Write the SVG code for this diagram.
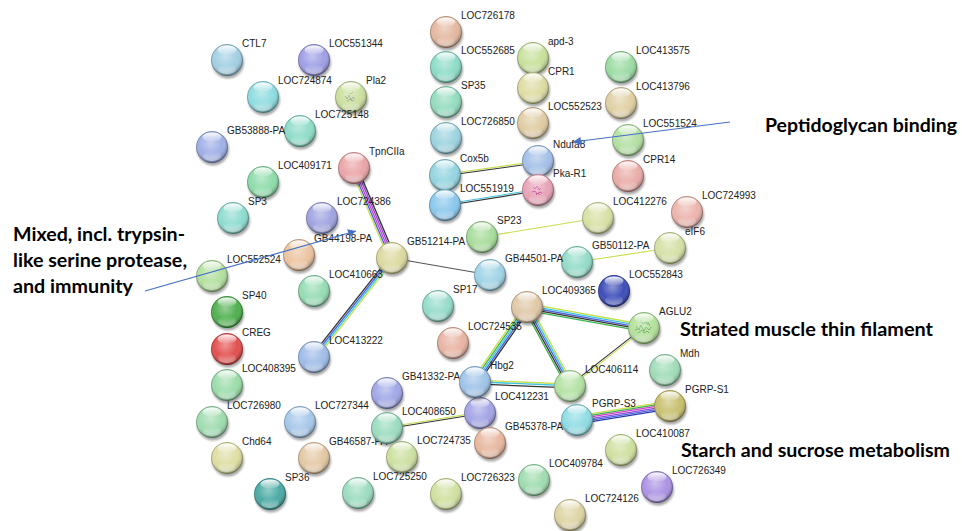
<svg xmlns="http://www.w3.org/2000/svg" width="962" height="531" viewBox="0 0 962 531">
<style>
.lb{font-family:"Liberation Sans",Arial,sans-serif;font-size:10px;fill:#222;}
.an{font-family:Lato,"Open Sans",sans-serif;font-weight:700;font-size:19px;fill:#000;}
.e line{stroke-width:1.1;fill:none;}
.y{stroke:#c4e04c}.c{stroke:#3cc4dc}.b{stroke:#4a62e0}.k{stroke:#333}.g{stroke:#3fb24a}.m{stroke:#d23cc8}.p{stroke:#8a4ad8}.n{stroke:#2a3aa8}
.arr{stroke:#4472c4;stroke-width:1.2;fill:none;}
</style>
<defs>
<filter id="blur" x="-30%" y="-30%" width="160%" height="160%"><feGaussianBlur stdDeviation="1.2"/></filter>
<radialGradient id="shade" cx="0.45" cy="0.38" r="0.62">
<stop offset="0" stop-color="#fff" stop-opacity="0.4"/>
<stop offset="0.6" stop-color="#fff" stop-opacity="0"/>
<stop offset="0.9" stop-color="#000" stop-opacity="0.2"/>
<stop offset="1" stop-color="#000" stop-opacity="0.4"/>
</radialGradient>
<linearGradient id="hl" x1="0" y1="0" x2="0" y2="1">
<stop offset="0" stop-color="#fff" stop-opacity="0.95"/>
<stop offset="1" stop-color="#fff" stop-opacity="0.1"/>
</linearGradient>
<linearGradient id="bl" x1="0" y1="0" x2="0" y2="1">
<stop offset="0" stop-color="#fff" stop-opacity="0"/>
<stop offset="1" stop-color="#fff" stop-opacity="0.45"/>
</linearGradient>
<g id="sh"><circle cx="1" cy="2.5" r="16" fill="#000" opacity="0.35" filter="url(#blur)"/></g>
<g id="gl">
<circle r="16" fill="url(#shade)"/>
<ellipse cy="-10" rx="9.5" ry="4.5" fill="url(#hl)"/>
<ellipse cy="9" rx="9" ry="5" fill="url(#bl)"/>
<circle r="15.6" fill="none" stroke="#000" stroke-opacity="0.25" stroke-width="0.8"/>
</g>
<marker id="ah" viewBox="0 0 10 10" refX="10" refY="5" markerWidth="10" markerHeight="8" markerUnits="userSpaceOnUse" orient="auto"><path d="M0,0 L10,5 L0,10 z" fill="#4472c4"/></marker>
</defs>
<rect width="962" height="531" fill="#fff"/>

<g id="edges" class="e">
<g transform="translate(354,168) rotate(67.1) scale(1,1.2)"><line class="y" x2="97.7" y1="2.8" y2="2.8"/><line class="b" x2="97.7" y1="1.4" y2="1.4"/><line class="m" x2="97.7"/><line class="p" x2="97.7" y1="-1.4" y2="-1.4"/><line class="k" x2="97.7" y1="-2.8" y2="-2.8"/></g>
<g transform="translate(392,258) rotate(128.2) scale(1,1.2)"><line class="k" x2="126" y1="2.1" y2="2.1"/><line class="b" x2="126" y1="0.7" y2="0.7"/><line class="c" x2="126" y1="-0.7" y2="-0.7"/><line class="y" x2="126" y1="-2.1" y2="-2.1"/></g>
<g transform="translate(392,258) rotate(9.84)"><line class="k" x2="99.5" style="stroke:#555"/></g>
<g transform="translate(482,237) rotate(-9.3)"><line class="y" x2="117.5"/></g>
<g transform="translate(577,262) rotate(-8.56)"><line class="y" x2="94"/></g>
<g transform="translate(445,175) rotate(-7.96)"><line class="y" x2="93.9" y1="-0.8" y2="-0.8"/><line class="k" x2="93.9" y1="0.8" y2="0.8"/></g>
<g transform="translate(445,205) rotate(-9.16)"><line class="c" x2="94.2" y1="-0.8" y2="-0.8"/><line class="k" x2="94.2" y1="0.8" y2="0.8"/></g>
<g transform="translate(527,307) rotate(10.2) scale(1,1.2)"><line class="y" x2="118.9" y1="-2.8" y2="-2.8"/><line class="c" x2="118.9" y1="-1.4" y2="-1.4"/><line class="b" x2="118.9"/><line class="k" x2="118.9" y1="1.4" y2="1.4"/><line class="g" x2="118.9" y1="2.8" y2="2.8"/></g>
<g transform="translate(527,307) rotate(61.4) scale(1,1.2)"><line class="g" x2="89.9" y1="2.8" y2="2.8"/><line class="k" x2="89.9" y1="1.4" y2="1.4"/><line class="b" x2="89.9"/><line class="c" x2="89.9" y1="-1.4" y2="-1.4"/><line class="y" x2="89.9" y1="-2.8" y2="-2.8"/></g>
<g transform="translate(527,307) rotate(124.7) scale(1,1.2)"><line class="y" x2="91.3" y1="2.8" y2="2.8"/><line class="g" x2="91.3" y1="1.4" y2="1.4"/><line class="c" x2="91.3"/><line class="b" x2="91.3" y1="-1.4" y2="-1.4"/><line class="k" x2="91.3" y1="-2.8" y2="-2.8"/></g>
<g transform="translate(475,382) rotate(2.41) scale(1,1.2)"><line class="y" x2="95.1" y1="-1.6" y2="-1.6"/><line class="c" x2="95.1" y1="-0.2" y2="-0.2"/><line class="k" x2="95.1" y1="1.6" y2="1.6"/></g>
<g transform="translate(644,328) rotate(141.9)"><line class="y" x2="94" y1="-0.8" y2="-0.8"/><line class="k" x2="94" y1="0.8" y2="0.8"/></g>
<g transform="translate(577,420) rotate(-9.16) scale(1,1.15)"><line class="y" x2="94.2" y1="-3.5" y2="-3.5"/><line class="g" x2="94.2" y1="-2.1" y2="-2.1"/><line class="m" x2="94.2" y1="-0.7" y2="-0.7"/><line class="p" x2="94.2" y1="0.7" y2="0.7"/><line class="b" x2="94.2" y1="2.1" y2="2.1"/><line class="n" x2="94.2" y1="3.5" y2="3.5"/></g>
<g transform="translate(387,428) rotate(-9.16)"><line class="y" x2="94.2" y1="-0.8" y2="-0.8"/><line class="k" x2="94.2" y1="0.8" y2="0.8"/></g>
</g>

<g id="nodes">
<g id="n-CTL7" transform="translate(227,60)"><use href="#sh"/><circle r="16" fill="#a3cfe3"/><use href="#gl"/><text class="lb" x="15" y="-13">CTL7</text></g>
<g id="n-LOC551344" transform="translate(314,60)"><use href="#sh"/><circle r="16" fill="#9f9fe6"/><use href="#gl"/><text class="lb" x="15" y="-13">LOC551344</text></g>
<g id="n-LOC724874" transform="translate(263,97)"><use href="#sh"/><circle r="16" fill="#8fdce0"/><use href="#gl"/><text class="lb" x="15" y="-13">LOC724874</text></g>
<g id="n-Pla2" transform="translate(351,97)"><use href="#sh"/><circle r="16" fill="#cbe0a0"/><path d="M-6,-1 l2,3 l2,-4 l2,5 l2,-3 l2,2 M-4,4 l3,-2 l2,2 l2,-1 M-2,-4 l2,1 l2,-2" stroke="#7c8870" stroke-width="0.7" fill="none"/><use href="#gl"/><text class="lb" x="15" y="-13">Pla2</text></g>
<g id="n-LOC725148" transform="translate(300,131)"><use href="#sh"/><circle r="16" fill="#8edcc8"/><use href="#gl"/><text class="lb" x="15" y="-13">LOC725148</text></g>
<g id="n-GB53888-PA" transform="translate(212,147)"><use href="#sh"/><circle r="16" fill="#9fb0e6"/><use href="#gl"/><text class="lb" x="15" y="-13">GB53888-PA</text></g>
<g id="n-LOC409171" transform="translate(263,182)"><use href="#sh"/><circle r="16" fill="#8fdcaa"/><use href="#gl"/><text class="lb" x="15" y="-13">LOC409171</text></g>
<g id="n-TpnCIIa" transform="translate(354,168)"><use href="#sh"/><circle r="16" fill="#eaa5a8"/><use href="#gl"/><text class="lb" x="15" y="-13">TpnCIIa</text></g>
<g id="n-SP3" transform="translate(233,218)"><use href="#sh"/><circle r="16" fill="#8fdcd0"/><use href="#gl"/><text class="lb" x="15" y="-13">SP3</text></g>
<g id="n-LOC724386" transform="translate(322,218)"><use href="#sh"/><circle r="16" fill="#a0a4e0"/><use href="#gl"/><text class="lb" x="15" y="-13">LOC724386</text></g>
<g id="n-GB44198-PA" transform="translate(299,255)"><use href="#sh"/><circle r="16" fill="#ecc4a0"/><use href="#gl"/><text class="lb" x="15" y="-13">GB44198-PA</text></g>
<g id="n-GB51214-PA" transform="translate(392,258)"><use href="#sh"/><circle r="16" fill="#dcdaa0"/><use href="#gl"/><text class="lb" x="15" y="-13">GB51214-PA</text></g>
<g id="n-LOC552524" transform="translate(212,276)"><use href="#sh"/><circle r="16" fill="#b4e0a0"/><use href="#gl"/><text class="lb" x="15" y="-13">LOC552524</text></g>
<g id="n-LOC410663" transform="translate(314,291)"><use href="#sh"/><circle r="16" fill="#96dcb4"/><use href="#gl"/><text class="lb" x="15" y="-13">LOC410663</text></g>
<g id="n-SP40" transform="translate(227,312)"><use href="#sh"/><circle r="16" fill="#50b050"/><use href="#gl"/><text class="lb" x="15" y="-13">SP40</text></g>
<g id="n-CREG" transform="translate(227,349)"><use href="#sh"/><circle r="16" fill="#e35050"/><use href="#gl"/><text class="lb" x="15" y="-13">CREG</text></g>
<g id="n-LOC413222" transform="translate(314,357)"><use href="#sh"/><circle r="16" fill="#a0bce8"/><use href="#gl"/><text class="lb" x="15" y="-13">LOC413222</text></g>
<g id="n-LOC408395" transform="translate(227,385)"><use href="#sh"/><circle r="16" fill="#9cdcaa"/><use href="#gl"/><text class="lb" x="15" y="-13">LOC408395</text></g>
<g id="n-LOC726980" transform="translate(212,422)"><use href="#sh"/><circle r="16" fill="#a0dcb0"/><use href="#gl"/><text class="lb" x="15" y="-13">LOC726980</text></g>
<g id="n-LOC727344" transform="translate(300,422)"><use href="#sh"/><circle r="16" fill="#a8c8ea"/><use href="#gl"/><text class="lb" x="15" y="-13">LOC727344</text></g>
<g id="n-GB41332-PA" transform="translate(387,393)"><use href="#sh"/><circle r="16" fill="#a0a8e6"/><use href="#gl"/><text class="lb" x="15" y="-13">GB41332-PA</text></g>
<g id="n-Chd64" transform="translate(227,458)"><use href="#sh"/><circle r="16" fill="#dedea4"/><use href="#gl"/><text class="lb" x="15" y="-13">Chd64</text></g>
<g id="n-GB46587-PA" transform="translate(314,458)"><use href="#sh"/><circle r="16" fill="#e4c8a4"/><use href="#gl"/><text class="lb" x="15" y="-13">GB46587-PA</text></g>
<g id="n-LOC408650" transform="translate(387,428)"><use href="#sh"/><circle r="16" fill="#9cdcc0"/><use href="#gl"/><text class="lb" x="15" y="-13">LOC408650</text></g>
<g id="n-SP36" transform="translate(270,494)"><use href="#sh"/><circle r="16" fill="#4caaa4"/><use href="#gl"/><text class="lb" x="15" y="-13">SP36</text></g>
<g id="n-LOC725250" transform="translate(358,493)"><use href="#sh"/><circle r="16" fill="#9cdcc0"/><use href="#gl"/><text class="lb" x="15" y="-13">LOC725250</text></g>
<g id="n-LOC724735" transform="translate(402,457)"><use href="#sh"/><circle r="16" fill="#cce0a0"/><use href="#gl"/><text class="lb" x="15" y="-13">LOC724735</text></g>
<g id="n-LOC412231" transform="translate(480,413)"><use href="#sh"/><circle r="16" fill="#a4a4e6"/><use href="#gl"/><text class="lb" x="15" y="-13">LOC412231</text></g>
<g id="n-GB45378-PA" transform="translate(490,443)"><use href="#sh"/><circle r="16" fill="#e8b8a0"/><use href="#gl"/><text class="lb" x="15" y="-13">GB45378-PA</text></g>
<g id="n-Hbg2" transform="translate(475,382)"><use href="#sh"/><circle r="16" fill="#a0c4e8"/><use href="#gl"/><text class="lb" x="15" y="-13">Hbg2</text></g>
<g id="n-LOC724535" transform="translate(453,343)"><use href="#sh"/><circle r="16" fill="#e8b4a4"/><use href="#gl"/><text class="lb" x="15" y="-13">LOC724535</text></g>
<g id="n-SP17" transform="translate(438,306)"><use href="#sh"/><circle r="16" fill="#96dccc"/><use href="#gl"/><text class="lb" x="15" y="-13">SP17</text></g>
<g id="n-LOC409365" transform="translate(527,307)"><use href="#sh"/><circle r="16" fill="#e0c8a8"/><use href="#gl"/><text class="lb" x="15" y="-13">LOC409365</text></g>
<g id="n-AGLU2" transform="translate(644,328)"><use href="#sh"/><circle r="16" fill="#b4e09c"/><path d="M-8,-2 l3,4 l2,-5 l3,6 l2,-4 l3,3 l2,-3 M-6,5 l4,-3 l2,3 l3,-2 l2,2 M-3,-7 l2,3 l3,-2 l2,3 M-9,2 l3,-1 M4,-6 l2,4" stroke="#3f9a3a" stroke-width="0.7" fill="none"/><use href="#gl"/><text class="lb" x="15" y="-13">AGLU2</text></g>
<g id="n-LOC406114" transform="translate(570,386)"><use href="#sh"/><circle r="16" fill="#b4e2a4"/><use href="#gl"/><text class="lb" x="15" y="-13">LOC406114</text></g>
<g id="n-Mdh" transform="translate(665,370)"><use href="#sh"/><circle r="16" fill="#a0dcb8"/><use href="#gl"/><text class="lb" x="15" y="-13">Mdh</text></g>
<g id="n-PGRP-S1" transform="translate(670,406)"><use href="#sh"/><circle r="16" fill="#c8c070"/><use href="#gl"/><text class="lb" x="15" y="-13">PGRP-S1</text></g>
<g id="n-PGRP-S3" transform="translate(577,420)"><use href="#sh"/><circle r="16" fill="#90dce4"/><use href="#gl"/><text class="lb" x="15" y="-13">PGRP-S3</text></g>
<g id="n-LOC410087" transform="translate(621,450)"><use href="#sh"/><circle r="16" fill="#d0e0a0"/><use href="#gl"/><text class="lb" x="15" y="-13">LOC410087</text></g>
<g id="n-LOC409784" transform="translate(534,480)"><use href="#sh"/><circle r="16" fill="#a0dcb0"/><use href="#gl"/><text class="lb" x="15" y="-13">LOC409784</text></g>
<g id="n-LOC726323" transform="translate(446,494)"><use href="#sh"/><circle r="16" fill="#d0e0a0"/><use href="#gl"/><text class="lb" x="15" y="-13">LOC726323</text></g>
<g id="n-LOC724126" transform="translate(570,515)"><use href="#sh"/><circle r="16" fill="#ded4a4"/><use href="#gl"/><text class="lb" x="15" y="-13">LOC724126</text></g>
<g id="n-LOC726349" transform="translate(657,487)"><use href="#sh"/><circle r="16" fill="#ac94e4"/><use href="#gl"/><text class="lb" x="15" y="-13">LOC726349</text></g>
<g id="n-LOC726178" transform="translate(446,32)"><use href="#sh"/><circle r="16" fill="#e4b8a0"/><use href="#gl"/><text class="lb" x="15" y="-13">LOC726178</text></g>
<g id="n-LOC552685" transform="translate(446,67)"><use href="#sh"/><circle r="16" fill="#8edcc8"/><use href="#gl"/><text class="lb" x="15" y="-13">LOC552685</text></g>
<g id="n-SP35" transform="translate(446,102)"><use href="#sh"/><circle r="16" fill="#94dcc0"/><use href="#gl"/><text class="lb" x="15" y="-13">SP35</text></g>
<g id="n-LOC726850" transform="translate(446,138)"><use href="#sh"/><circle r="16" fill="#9cd4e0"/><use href="#gl"/><text class="lb" x="15" y="-13">LOC726850</text></g>
<g id="n-Cox5b" transform="translate(445,175)"><use href="#sh"/><circle r="16" fill="#94d4e0"/><use href="#gl"/><text class="lb" x="15" y="-13">Cox5b</text></g>
<g id="n-LOC551919" transform="translate(445,205)"><use href="#sh"/><circle r="16" fill="#8cc8ec"/><use href="#gl"/><text class="lb" x="15" y="-13">LOC551919</text></g>
<g id="n-apd-3" transform="translate(533,58)"><use href="#sh"/><circle r="16" fill="#c8e09c"/><use href="#gl"/><text class="lb" x="15" y="-13">apd-3</text></g>
<g id="n-CPR1" transform="translate(533,88)"><use href="#sh"/><circle r="16" fill="#dedca4"/><use href="#gl"/><text class="lb" x="15" y="-13">CPR1</text></g>
<g id="n-LOC552523" transform="translate(533,123)"><use href="#sh"/><circle r="16" fill="#e0cca4"/><use href="#gl"/><text class="lb" x="15" y="-13">LOC552523</text></g>
<g id="n-Ndufa8" transform="translate(538,161)"><use href="#sh"/><circle r="16" fill="#a4c0e8"/><use href="#gl"/><text class="lb" x="15" y="-13">Ndufa8</text></g>
<g id="n-Pka-R1" transform="translate(538,190)"><use href="#sh"/><circle r="16" fill="#e8a4b8"/><path d="M-5,-3 l2,2 l2,-3 l2,4 l2,-2 M-6,2 l3,-1 l2,3 l3,-2 l2,1 M-2,5 l2,-2 l2,2" stroke="#c0308a" stroke-width="0.9" fill="none"/><use href="#gl"/><text class="lb" x="15" y="-13">Pka-R1</text></g>
<g id="n-LOC413575" transform="translate(621,67)"><use href="#sh"/><circle r="16" fill="#9cdca4"/><use href="#gl"/><text class="lb" x="15" y="-13">LOC413575</text></g>
<g id="n-LOC413796" transform="translate(621,103)"><use href="#sh"/><circle r="16" fill="#e0d0a4"/><use href="#gl"/><text class="lb" x="15" y="-13">LOC413796</text></g>
<g id="n-LOC551524" transform="translate(628,140)"><use href="#sh"/><circle r="16" fill="#b4e0a4"/><use href="#gl"/><text class="lb" x="15" y="-13">LOC551524</text></g>
<g id="n-CPR14" transform="translate(628,176)"><use href="#sh"/><circle r="16" fill="#eaaca8"/><use href="#gl"/><text class="lb" x="15" y="-13">CPR14</text></g>
<g id="n-LOC412276" transform="translate(598,218)"><use href="#sh"/><circle r="16" fill="#d8e0a4"/><use href="#gl"/><text class="lb" x="15" y="-13">LOC412276</text></g>
<g id="n-LOC724993" transform="translate(687,212)"><use href="#sh"/><circle r="16" fill="#ecb4ac"/><use href="#gl"/><text class="lb" x="15" y="-13">LOC724993</text></g>
<g id="n-eIF6" transform="translate(670,248)"><use href="#sh"/><circle r="16" fill="#d4e0a4"/><use href="#gl"/><text class="lb" x="15" y="-13">eIF6</text></g>
<g id="n-GB50112-PA" transform="translate(577,262)"><use href="#sh"/><circle r="16" fill="#94dcc8"/><use href="#gl"/><text class="lb" x="15" y="-13">GB50112-PA</text></g>
<g id="n-LOC552843" transform="translate(614,291)"><use href="#sh"/><circle r="16" fill="#3e4eb8"/><use href="#gl"/><text class="lb" x="15" y="-13">LOC552843</text></g>
<g id="n-SP23" transform="translate(482,237)"><use href="#sh"/><circle r="16" fill="#a8dc9c"/><use href="#gl"/><text class="lb" x="15" y="-13">SP23</text></g>
<g id="n-GB44501-PA" transform="translate(490,275)"><use href="#sh"/><circle r="16" fill="#a0d4e6"/><use href="#gl"/><text class="lb" x="15" y="-13">GB44501-PA</text></g>
</g>

<g id="annotations">
<text class="an" x="765" y="132" textLength="192" lengthAdjust="spacingAndGlyphs">Peptidoglycan binding</text>
<text class="an" x="13" y="240.5" textLength="172" lengthAdjust="spacingAndGlyphs">Mixed, incl. trypsin-</text>
<text class="an" x="13" y="266.5" textLength="174" lengthAdjust="spacingAndGlyphs">like serine protease,</text>
<text class="an" x="13" y="292.5" textLength="120" lengthAdjust="spacingAndGlyphs">and immunity</text>
<text class="an" x="680" y="336" textLength="253" lengthAdjust="spacingAndGlyphs">Striated muscle thin filament</text>
<text class="an" x="681" y="457" textLength="269" lengthAdjust="spacingAndGlyphs">Starch and sucrose metabolism</text>
<line class="arr" x1="730" y1="122" x2="573" y2="142" marker-end="url(#ah)"/>
<line class="arr" x1="145" y1="291" x2="356" y2="231" marker-end="url(#ah)"/>
</g>
</svg>
